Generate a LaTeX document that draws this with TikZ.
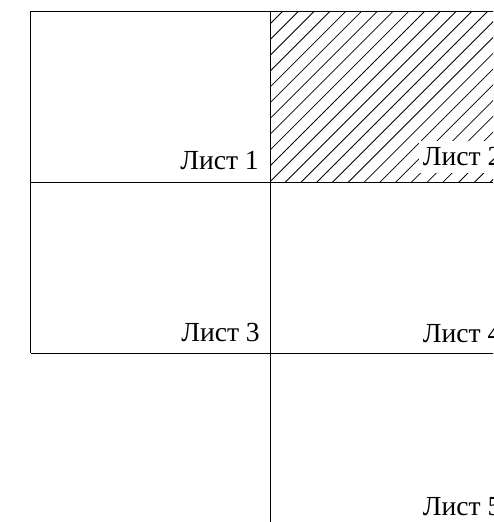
\documentclass[tikz,border=0pt]{standalone}
\usepackage{fontspec}
\setmainfont{Liberation Serif}
\begin{document}
\begin{tikzpicture}[x=1pt,y=-1pt,
  gridline/.style={line width=1pt,black},
  hatchline/.style={line width=0.8pt,black},
  sheetlabel/.style={font=\fontsize{27.6}{30}\selectfont,inner sep=0pt}]
\useasboundingbox (0,0) rectangle (493,522);
\clip (0,0) rectangle (493,522);
% corner coordinates
\coordinate (tl) at (30.5,11);
\coordinate (tm) at (270,11);
\coordinate (tr) at (500,11);
\coordinate (ml) at (30.5,182);
\coordinate (mm) at (270,182);
\coordinate (mr) at (500,182);
\coordinate (bl) at (30.5,353);
\coordinate (bm) at (270,353);
\coordinate (br) at (500,353);
\coordinate (bot) at (270,522);
% hatching of sheet 2
\begin{scope}
  \clip (tm) rectangle (mr);
  \foreach \k in {-1,...,28}
    \draw[hatchline] ({283+15.77*\k},11) -- ({283+15.77*\k-200},211);
\end{scope}
% labels
\node[sheetlabel,anchor=base east] (l1) at (259,169) {Лист 1};
\node[sheetlabel,fill=white,inner xsep=3.5pt,inner ysep=2pt,text height=22pt,text depth=6pt,anchor=base west] (l2) at (419.2,165) {Лист 2};
\node[sheetlabel,anchor=base east] (l3) at (260,341) {Лист 3};
\node[sheetlabel,anchor=base west] (l4) at (422.7,342) {Лист 4};
\node[sheetlabel,anchor=base west] (l5) at (422.7,515) {Лист 5};
% grid
\draw[gridline] (tl) -- (tr);
\draw[gridline] (ml) -- (mr);
\draw[gridline] (bl) -- (br);
\draw[gridline] (tl) -- (bl);
\draw[gridline] (tm) -- (bot);
\end{tikzpicture}
\end{document}
